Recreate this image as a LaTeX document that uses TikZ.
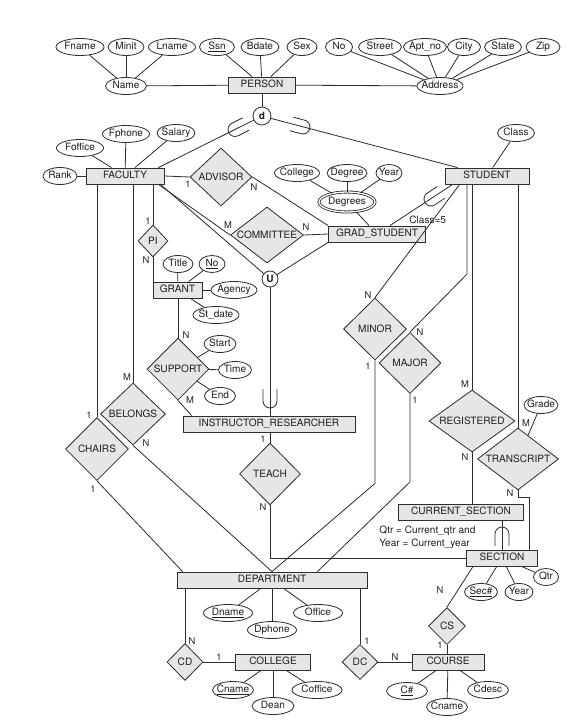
\documentclass[tikz,border=0pt]{standalone}
\usepackage{fontspec}
\setmainfont{TeX Gyre Heros}
\usepackage{tikz}
\usetikzlibrary{shapes.geometric, calc}
\definecolor{erFill}{HTML}{E6E6E6}
\definecolor{erLine}{HTML}{2E2E2E}
\definecolor{erText}{HTML}{1E1E1E}

\begin{document}
\begin{tikzpicture}[x=0.03cm, y=-0.03cm, line width=0.7pt,
    every node/.style={font=\fontsize{8.6}{10}\selectfont, text=erText},
    entity/.style={draw=erLine, fill=erFill, rectangle, inner sep=0pt,
                   minimum width=#1*0.03cm, minimum height=0.48cm,
                   text height=6.5pt, text depth=1.5pt},
    rel/.style 2 args={draw=erLine, fill=erFill, diamond, shape aspect=1.3,
                   inner sep=0pt, minimum width=#1*0.03cm, minimum height=#2*0.03cm},
    attr/.style={draw=erLine, fill=white, ellipse, inner xsep=-3pt, inner ysep=0pt,
                 minimum width=#1*0.03cm, minimum height=0.51cm,
                 text height=6.5pt, text depth=1.8pt},
    multi/.style={attr=#1, minimum height=0.6cm, double, double distance=1.1pt},
    circ/.style={draw=erLine, fill=white, circle, inner sep=0pt,
                 minimum size=#1*0.03cm, font=\fontsize{8.6}{10}\selectfont\bfseries},
    card/.style={inner sep=0pt, font=\fontsize{8}{9}\selectfont},
    note/.style={inner sep=0pt, align=left, font=\fontsize{8.6}{11}\selectfont},
    link/.style={draw=erLine},
    subsetsym/.pic={\draw[erLine] (12,7) -- (0,7)
                    arc[start angle=90, end angle=270, radius=7] -- (12,-7);}]
  \useasboundingbox (0,0) rectangle (587,726);

  % PERSON and its attributes
  \node[entity=67] (person) at (262,85) {PERSON};
  \node[attr=41] (name) at (126,86) {Name};
  \node[attr=48] (fname) at (80,47) {Fname};
  \node[attr=36] (minit) at (126,47) {Minit};
  \node[attr=47] (lname) at (172,47) {Lname};
  \node[attr=35] (ssn) at (217,47) {\underline{Ssn}};
  \node[attr=38] (bdate) at (260,47) {Bdate};
  \node[attr=30] (sex) at (302,47) {Sex};
  \node[attr=27] (no) at (339,47) {No};
  \node[attr=43] (street) at (380,47) {Street};
  \node[attr=43] (aptno) at (425,47) {Apt\_no};
  \node[attr=33] (city) at (464,47) {City};
  \node[attr=37] (state) at (503,47) {State};
  \node[attr=34] (zip) at (543,47) {Zip};
  \node[attr=46] (address) at (440,86) {Address};
  \node[circ=18] (dsub) at (262,116) {d};

  % FACULTY side
  \node[entity=78] (faculty) at (125,176) {FACULTY};
  \node[attr=34] (rank) at (60,176) {Rank};
  \node[attr=47] (foffice) at (80,148) {Foffice};
  \node[attr=47] (fphone) at (126,134) {Fphone};
  \node[attr=38] (salary) at (176,133) {Salary};
  \node[rel={62}{58}] (advisor) at (221,177) {ADVISOR};
  \node[rel={73}{56}] (committee) at (267,235) {COMMITTEE};
  \node[rel={30}{32}] (pi) at (153,241) {PI};
  \node[entity=49] (grant) at (177.5,290) {GRANT};
  \node[attr=30] (title) at (178,264) {Title};
  \node[attr=26] (grno) at (212,264) {\underline{No}};
  \node[attr=46] (agency) at (234,290) {Agency};
  \node[attr=46] (stdate) at (216,315) {St\_date};
  \node[rel={62}{62}] (support) at (178,369) {SUPPORT};
  \node[attr=32] (start) at (220,344) {Start};
  \node[attr=33] (time) at (235,370) {Time};
  \node[attr=31] (endt) at (220,396) {End};
  \node[rel={65}{62}] (belongs) at (133,414) {BELONGS};
  \node[rel={63}{63}] (chairs) at (97,449) {CHAIRS};

  % STUDENT side
  \node[entity=84] (student) at (487,176) {STUDENT};
  \node[attr=37] (class) at (516,133) {Class};
  \node[entity=97] (gradst) at (377,234) {GRAD\_STUDENT};
  \node[multi=56] (degrees) at (347,202) {Degrees};
  \node[attr=45] (college) at (297,173) {College};
  \node[attr=40] (degree) at (347,173) {Degree};
  \node[attr=26] (year) at (389,173) {Year};
  \node[note, anchor=west] (clsnote) at (409,220) {Class=5};
  \node[circ=16] (ucat) at (270,279) {U};
  \node[entity=172] (instr) at (269,424) {INSTRUCTOR\_RESEARCHER};
  \node[rel={61}{62}] (teach) at (270,474) {TEACH};
  \node[rel={63}{62}] (minor) at (375,329) {MINOR};
  \node[rel={62}{61}] (major) at (410,363) {MAJOR};
  \node[rel={86}{62}] (registered) at (472,421) {REGISTERED};
  \node[rel={81}{62}] (transcript) at (518,459) {TRANSCRIPT};
  \node[attr=34] (grade) at (541,405) {Grade};

  % sections and courses
  \node[entity=125] (cursec) at (461,512) {CURRENT\_SECTION};
  \node[note, anchor=west] (qtrnote) at (379,537)
    {Qtr = Current\_qtr and\\Year = Current\_year};
  \node[entity=71] (section) at (502,558) {SECTION};
  \node[attr=33] (secno) at (481,592) {\underline{Sec\#}};
  \node[attr=28] (secyear) at (519,592) {Year};
  \node[attr=25] (qtr) at (546,577) {Qtr};
  \node[rel={37}{37}] (cs) at (447,626) {CS};
  \node[entity=72] (course) at (448,662) {COURSE};
  \node[attr=41] (cno) at (407,691) {\underline{C\#}};
  \node[attr=41] (crsname) at (447,707) {Cname};
  \node[attr=41] (cdesc) at (488,690) {Cdesc};

  % DEPARTMENT and COLLEGE
  \node[entity=190] (dept) at (272,580) {DEPARTMENT};
  \node[attr=49] (dname) at (228,613) {\underline{Dname}};
  \node[attr=49] (dphone) at (272,630) {Dphone};
  \node[attr=49] (office) at (318,613) {Office};
  \node[rel={36}{37}] (cd) at (185,662) {CD};
  \node[rel={36}{35}] (dc) at (360,662) {DC};
  \node[entity=75] (colg) at (273,662) {COLLEGE};
  \node[attr=41] (cgname) at (233,690) {\underline{Cname}};
  \node[attr=42] (dean) at (273,706) {Dean};
  \node[attr=50] (coffice) at (317,690) {Coffice};

  % attribute lines
  \foreach \a in {fname,minit,lname} \draw[link] (\a) -- (name);
  \foreach \a in {name,ssn,bdate,sex} \draw[link] (\a) -- (person);
  \foreach \a in {no,street,aptno,city,state,zip} \draw[link] (\a) -- (address);
  \draw[link] (person) -- (address);
  \foreach \a in {rank,foffice,fphone,salary} \draw[link] (\a) -- (faculty);
  \draw[link] (class) -- (student);
  \foreach \a in {college,degree,year} \draw[link] (\a) -- (degrees);
  \draw[link] (degrees) -- (gradst);
  \foreach \a in {title,grno,agency,stdate} \draw[link] (\a) -- (grant);
  \foreach \a in {start,time,endt} \draw[link] (\a) -- (support);
  \draw[link] (grade) -- (transcript);
  \foreach \a in {secno,secyear,qtr} \draw[link] (\a) -- (section);
  \foreach \a in {cno,crsname,cdesc} \draw[link] (\a) -- (course);
  \foreach \a in {dname,dphone,office} \draw[link] (\a) -- (dept);
  \foreach \a in {cgname,dean,coffice} \draw[link] (\a) -- (colg);

  % specialization and category
  \draw[link] (person) -- (dsub);
  \draw[link] (dsub) -- ($(faculty.north east)+(-6,0)$);
  \draw[link] (dsub) -- ($(student.north west)+(13,0)$);
  \draw[link] ($(student.south west)+(8,0)$) -- ($(gradst.north)+(13,0)$);
  \draw[link] ($(faculty.south east)+(-4,0)$) -- (ucat);
  \draw[link] (gradst.south west) -- (ucat);
  \draw[link] (ucat) -- (ucat |- instr.north);
  \draw[link] (cursec.south -| section.north) -- (section.north);
  \pic[rotate=26.6] at (235,129.5) {subsetsym};
  \pic[rotate=165.1] at (303,127) {subsetsym};
  \pic[rotate=33.7] at (431,199) {subsetsym};
  \pic[rotate=90] at (270,401) {subsetsym};
  \pic[rotate=-90] at (502,534) {subsetsym};

  % relationships
  \draw[link] (faculty.east) -- (advisor.west);
  \draw[link] (advisor.east) -- (gradst.north west);
  \draw[link] ($(faculty.south east)+(-6,0)$) -- (committee.west);
  \draw[link] (committee.east) -- (gradst.west);
  \draw[link] (pi.north) -- (pi.north |- faculty.south);
  \draw[link] (pi.south) -- (pi.south |- grant.north);
  \draw[link] (support.north |- grant.south) -- (support.north);
  \draw[link] (support.south) -- ($(instr.north west)+(9,0)$);
  \draw[link] (belongs.north) -- (belongs.north |- faculty.south);
  \draw[link] (chairs.north) -- (chairs.north |- faculty.south);
  \draw[link] (chairs.south) -- ($(dept.north west)+(6,0)$);
  \draw[link] (belongs.south) -- (dept.north);
  \draw[link] (instr.south -| teach.north) -- (teach.north);
  \draw[link] (teach.south) |- (section.west);
  \draw[link] ($(student.south west)+(15,0)$) -- (minor.north);
  \draw[link] (major.north) -- ++(57,-58) coordinate (mjbend) -- (mjbend |- student.south);
  \draw[link] (registered.north) -- (registered.north |- student.south);
  \draw[link] (transcript.north) -- (transcript.north |- student.south);
  \draw[link] (registered.south) -- (registered.south |- cursec.north);
  \draw[link] (transcript.south) -- ++(0,7) -| ($(section.north east)+(-9,0)$);
  \draw[link] (minor.south) -- ++(0,123) -- (dept.north);
  \draw[link] (major.south) -- ++(0,88) -- ($(dept.north east)+(-50,0)$);
  \draw[link] ($(section.south west)+(7,0)$) -- (cs.north);
  \draw[link] (cs.south) -- (cs.south |- course.north);
  \draw[link] (cd.north) -- (cd.north |- dept.south);
  \draw[link] (dc.north) -- (dc.north |- dept.south);
  \draw[link] (cd.east) -- (colg.west);
  \draw[link] (dc.east) -- (course.west);

  % cardinalities
  \foreach \n/\p/\t in {advA/{(188,184)}/1, advB/{(254,187)}/N,
      comA/{(228,225)}/M, comB/{(306,227)}/N, piA/{(148,221)}/1, piB/{(146,260)}/N,
      supA/{(186,335)}/N, supB/{(190,400)}/M, belA/{(127,377)}/M, belB/{(146,443)}/N,
      chA/{(89,415)}/1, chB/{(93,489)}/1, tchA/{(263,439)}/1, tchB/{(263,507)}/N,
      minA/{(368,295)}/N, minB/{(368,366)}/1, majA/{(420,332)}/N, majB/{(415,400)}/1,
      regA/{(465,384)}/M, regB/{(465,457)}/N, trA/{(526,423)}/M, trB/{(510,493)}/N,
      csA/{(440,590)}/N, csB/{(440,645)}/1, dcA/{(367,641)}/1, dcB/{(395,657)}/N,
      cdA/{(192,641)}/N, cdB/{(219,657)}/1}
    \node[card] (\n) at \p {\t};
\end{tikzpicture}
\end{document}
